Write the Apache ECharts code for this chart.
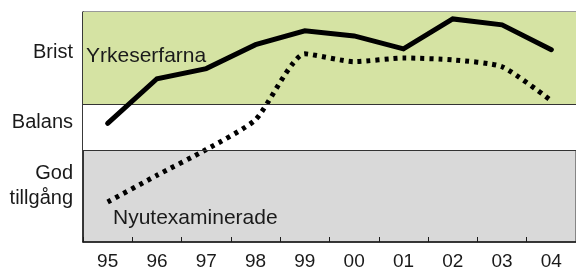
<!DOCTYPE html>
<html>
<head>
<meta charset="utf-8">
<script src="https://cdn.jsdelivr.net/npm/echarts@6/dist/echarts.min.js"></script>
<style>
  html, body { margin: 0; padding: 0; background: #fff; }
  #chart { width: 576px; height: 271px; }
</style>
</head>
<body>
<div id="chart"></div>
<script>
// år (x-axeln)
let years = ['95', '96', '97', '98', '99', '00', '01', '02', '03', '04']

// läge: 0-2 god tillgång, 2-3 balans, 3-5 brist
let yrkeserfarna = [2.58, 3.55, 3.77, 4.29, 4.59, 4.48, 4.20, 4.85, 4.72, 4.18]
let nyutexaminerade = [0.87, 1.45, 2.01, 2.66, 4.09, 3.92, 4.00, 3.96, 3.81, 3.07]

// etiketter på y-axeln och var de sitter
let levelValues = [1.22, 2.6, 4.12]
let levelNames = ['God\ntillgång', 'Balans', 'Brist']

// bakgrundsband (god tillgång = rutnätets bakgrund)
let baseColor = '#d9d9d9'
let bands = [
  { from: 2, to: 3, color: '#ffffff' },
  { from: 3, to: 5, color: '#d5e3a3' }
]

let textColor = '#1a1a1a'
let font = 'Liberation Sans, Arial, sans-serif'
let chart = echarts.init(document.getElementById('chart'), null, { renderer: 'canvas' })

chart.setOption({
  animation: false,
  grid: {
    left: 83,
    top: 12,
    width: 500,
    height: 231,
    show: true,
    backgroundColor: baseColor,
    borderColor: '#333',
    borderWidth: 1
  },
  xAxis: {
    type: 'category',
    data: years,
    boundaryGap: true,
    position: 'bottom',
    axisLine: { show: true, onZero: false, lineStyle: { color: '#1a1a1a', width: 1.5 } },
    axisTick: { show: true, interval: 0, inside: true, length: 5, lineStyle: { color: '#1a1a1a', width: 1 } },
    axisLabel: {
      color: textColor,
      fontSize: 19,
      fontFamily: font,
      margin: 10
    },
    splitLine: { show: false }
  },
  yAxis: {
    type: 'value',
    min: 0,
    max: 5,
    axisLine: { show: true, lineStyle: { color: '#1a1a1a', width: 1.5 } },
    axisTick: { show: false },
    splitLine: { show: false },
    axisLabel: {
      customValues: levelValues,
      formatter: function (v) {
        let i = levelValues.indexOf(v)
        return i >= 0 ? levelNames[i] : ''
      },
      color: textColor,
      fontSize: 20,
      lineHeight: 25,
      fontFamily: font,
      margin: 10,
      align: 'right'
    }
  },
  graphic: [
    {
      type: 'text',
      left: 86,
      top: 46,
      style: {
        text: 'Yrkeserfarna',
        fill: textColor,
        fontSize: 21,
        fontFamily: font
      },
      z: 10
    },
    {
      type: 'text',
      left: 113,
      top: 208,
      style: {
        text: 'Nyutexaminerade',
        fill: textColor,
        fontSize: 21,
        fontFamily: font
      },
      z: 10
    }
  ],
  series: [
    {
      // bara bakgrundsband
      name: 'band',
      type: 'line',
      data: [],
      z: 1,
      silent: true,
      markArea: {
        silent: true,
        data: bands.map(b => [
          { yAxis: b.from, itemStyle: { color: b.color } },
          { yAxis: b.to }
        ])
      },
      markLine: {
        silent: true,
        symbol: 'none',
        label: { show: false },
        lineStyle: { color: '#333', width: 1.2, type: 'solid' },
        data: [{ yAxis: 2 }, { yAxis: 3 }]
      }
    },
    {
      name: 'Yrkeserfarna',
      type: 'line',
      data: yrkeserfarna,
      symbol: 'none',
      lineStyle: { color: '#000', width: 5, cap: 'round', join: 'miter' },
      z: 5
    },
    {
      name: 'Nyutexaminerade',
      type: 'line',
      data: nyutexaminerade,
      symbol: 'none',
      smooth: 0.2,
      lineStyle: { color: '#000', width: 5, type: [4, 5], cap: 'butt' },
      z: 4
    }
  ]
})
</script>
</body>
</html>
